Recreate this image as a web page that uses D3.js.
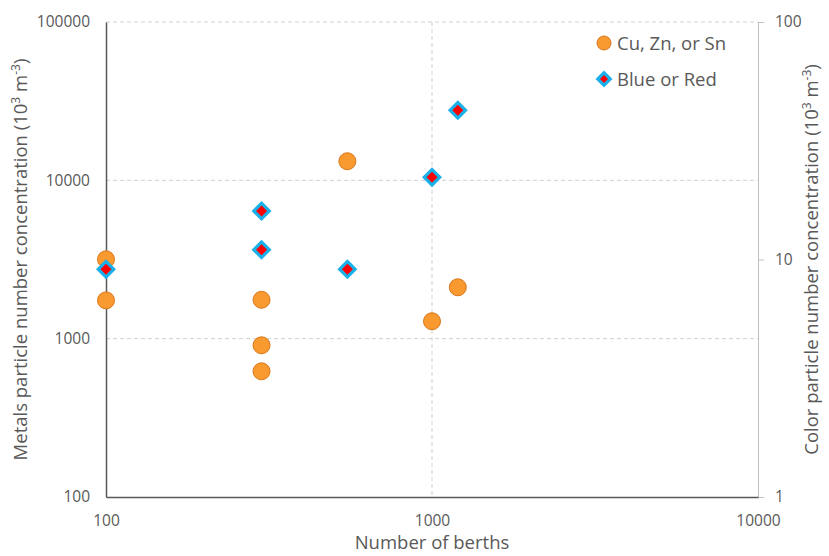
<!DOCTYPE html>
<html>
<head>
<meta charset="utf-8">
<script src="https://cdn.jsdelivr.net/npm/d3@7"></script>
<style>
  body { margin: 0; background: #fff; }
  svg text { font-family: "Open Sans", "Noto Sans", sans-serif; fill: #595959; }
</style>
</head>
<body>
<svg id="chart" width="829" height="556"></svg>
<script>
// berths and concentrations
const metalBerths = [100, 100, 300, 300, 300, 550, 1000, 1200];
const metalValues = [3170, 1745, 1760, 908, 622, 13200, 1288, 2110];

const colorBerths = [100, 300, 300, 550, 1000, 1200];
const colorValues = [9.1, 16.0, 11.0, 9.1, 22.2, 42.5];

const xTicks = [100, 1000, 10000];
const yLeftTicks = [100, 1000, 10000, 100000];
const yRightTicks = [1, 10, 100];

const legendLabels = ["Cu, Zn, or Sn", "Blue or Red"];

const vis = {

    m : { left : 106, right : 758, top : 22, bottom : 497 },

    svg : d3.select("#chart"),

    scales : function() {
        this.x = d3.scaleLog().domain([100, 10000]).range([this.m.left, this.m.right]);
        this.yL = d3.scaleLog().domain([100, 100000]).range([this.m.bottom, this.m.top]);
        this.yR = d3.scaleLog().domain([1, 100]).range([this.m.bottom, this.m.top]);
    },

    grid : function() {
        const g = this.svg.append("g").attr("stroke", "#d0d0d0").attr("stroke-dasharray", "4,3");
        g.selectAll(".hg").data(yLeftTicks.slice(1)).join("line")
          .attr("x1", this.m.left).attr("x2", this.m.right)
          .attr("y1", d => this.yL(d)).attr("y2", d => this.yL(d));
        g.selectAll(".vg").data([1000]).join("line")
          .attr("x1", d => this.x(d)).attr("x2", d => this.x(d))
          .attr("y1", this.m.top).attr("y2", this.m.bottom);
    },

    axes : function() {
        const fmt = d => d3.format("d")(d);

        const xa = this.svg.append("g").attr("transform", `translate(0,${this.m.bottom})`)
          .call(d3.axisBottom(this.x).tickValues(xTicks).tickFormat(fmt).tickSize(0).tickPadding(18));
        const yl = this.svg.append("g").attr("transform", `translate(${this.m.left},0)`)
          .call(d3.axisLeft(this.yL).tickValues(yLeftTicks).tickFormat(fmt).tickSize(0).tickPadding(16));
        const yr = this.svg.append("g").attr("transform", `translate(${this.m.right},0)`)
          .call(d3.axisRight(this.yR).tickValues(yRightTicks).tickFormat(fmt).tickSize(6).tickPadding(11));

        [xa, yl, yr].forEach(a => {
            a.selectAll("text").style("font-size", "15.5px").attr("fill", "#595959");
            a.select(".domain").attr("stroke", "#595959").attr("stroke-width", 1.5);
        });
        yr.select(".domain").attr("stroke", "#bfbfbf").attr("stroke-width", 1);
        yr.selectAll(".tick line").attr("stroke", "#bfbfbf");
        xa.raise();
    },

    title : function(x, label) {
        const t = this.svg.append("text")
          .attr("transform", `translate(${x},${(this.m.top + this.m.bottom) / 2}) rotate(-90)`)
          .attr("text-anchor", "middle").style("font-size", "18.5px");
        t.append("tspan").text(label + " particle number concentration (10");
        t.append("tspan").attr("dy", -7).style("font-size", "12px").text("3");
        t.append("tspan").attr("dy", 7).text(" m");
        t.append("tspan").attr("dy", -7).style("font-size", "12px").text("-3");
        t.append("tspan").attr("dy", 7).text(")");
    },

    titles : function() {
        this.svg.append("text").attr("x", (this.m.left + this.m.right) / 2).attr("y", 549)
          .attr("text-anchor", "middle").style("font-size", "18.5px").text("Number of berths");
        this.title(27, "Metals");
        this.title(818, "Color");
    },

    diamond : function(sel, r1, r2) {
        sel.append("path").attr("d", `M0,${-r1}L${r1},0L0,${r1}L${-r1},0Z`).attr("fill", "#1ab0ea");
        sel.append("path").attr("d", `M0,${-r2}L${r2},0L0,${r2}L${-r2},0Z`).attr("fill", "#ff0000");
    },

    points : function() {
        const metals = metalBerths.map((b, i) => ({ b : b, v : metalValues[i] }));
        const colors = colorBerths.map((b, i) => ({ b : b, v : colorValues[i] }));

        this.svg.append("g").selectAll("circle").data(metals).join("circle")
          .attr("cx", d => this.x(d.b)).attr("cy", d => this.yL(d.v)).attr("r", 8.5)
          .attr("fill", "#f99a31").attr("stroke", "#d9771c").attr("stroke-width", 1);

        const dg = this.svg.append("g").selectAll("g").data(colors).join("g")
          .attr("transform", d => `translate(${this.x(d.b)},${this.yR(d.v)})`);
        dg.each(function() { vis.diamond(d3.select(this), 10, 5.5); });
    },

    legend : function() {
        const lg = this.svg.append("g");
        lg.append("circle").attr("cx", 604).attr("cy", 43).attr("r", 7)
          .attr("fill", "#f99a31").attr("stroke", "#d9771c");
        this.diamond(lg.append("g").attr("transform", "translate(604,79)"), 8.5, 4);
        lg.selectAll("text").data(legendLabels).join("text")
          .attr("x", 617).attr("y", (d, i) => 50 + i * 36)
          .style("font-size", "18.5px").text(d => d);
    },

    ctrl : {
        init : function() {
            vis.scales();
            vis.grid();
            vis.axes();
            vis.titles();
            vis.points();
            vis.legend();
        }
    }
};

vis.ctrl.init();
</script>
</body>
</html>
